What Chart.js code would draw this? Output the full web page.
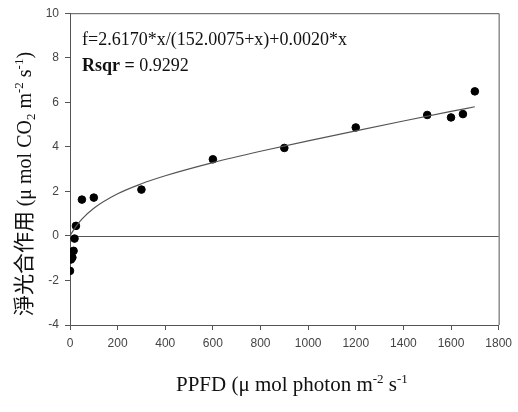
<!DOCTYPE html>
<html>
<head>
<meta charset="utf-8">
<script src="https://cdn.jsdelivr.net/npm/chart.js@4.4.1/dist/chart.umd.min.js"></script>
<style>
  html, body { margin: 0; padding: 0; background: #fff; }
  #wrap { width: 518px; height: 412px; }
</style>
</head>
<body>
<div id="wrap"><canvas id="c" width="518" height="412"></canvas></div>
<script>
// measured points (PPFD vs net photosynthesis)
const ppfd = [0, 4, 10, 15, 19, 25, 50, 100, 300, 600, 900, 1200, 1500, 1600, 1650, 1700];
const netPhoto = [-1.57, -1.06, -0.97, -0.67, -0.12, 0.45, 1.63, 1.72, 2.08, 3.44, 3.95, 4.87, 5.43, 5.32, 5.47, 6.49];

// fitted curve
const fitX = [0, 10, 25, 50, 100, 200, 300, 400, 600, 800, 1000, 1200, 1400, 1600, 1700];
const fitY = [0, 0.18, 0.42, 0.75, 1.24, 1.89, 2.34, 2.70, 3.29, 3.80, 4.27, 4.72, 5.16, 5.59, 5.80];

const xTicks = [0, 200, 400, 600, 800, 1000, 1200, 1400, 1600, 1800];
const yTicks = [-4, -2, 0, 2, 4, 6, 8, 10];

const formulaText = 'f=2.6170*x/(152.0075+x)+0.0020*x';
const rsqrLabel = 'Rsqr =';
const rsqrValue = ' 0.9292';

const serif = '"Liberation Serif", "Times New Roman", serif';
const sans = '"Liberation Sans", Arial, sans-serif';
const axisColor = '#555';

// draw a run of text pieces, some raised or lowered, starting at x
function drawPieces(ctx, pieces, x, y) {
    pieces.forEach(p => {
        ctx.font = p.font;
        ctx.fillText(p.t, x, y + (p.dy || 0));
        x += ctx.measureText(p.t).width;
    });
}
function piecesWidth(ctx, pieces) {
    let w = 0;
    pieces.forEach(p => { ctx.font = p.font; w += ctx.measureText(p.t).width; });
    return w;
}

const decorPlugin = {
    id: 'decor',
    beforeDatasetsDraw(chart) {
        const ctx = chart.ctx;
        const a = chart.chartArea;
        const y0 = chart.scales.y.getPixelForValue(0);
        ctx.save();
        ctx.strokeStyle = axisColor;
        ctx.lineWidth = 1;
        // top and right frame
        ctx.beginPath();
        ctx.moveTo(a.left, a.top + 0.5);
        ctx.lineTo(a.right + 0.5, a.top + 0.5);
        ctx.lineTo(a.right + 0.5, a.bottom);
        ctx.stroke();
        // zero line
        ctx.beginPath();
        ctx.moveTo(a.left, Math.round(y0) + 0.5);
        ctx.lineTo(a.right, Math.round(y0) + 0.5);
        ctx.stroke();
        ctx.restore();
    },
    afterDraw(chart) {
        const ctx = chart.ctx;
        ctx.save();
        ctx.fillStyle = '#111';
        ctx.textBaseline = 'alphabetic';
        ctx.textAlign = 'left';

        // formula and r squared
        ctx.font = '18px ' + serif;
        ctx.fillText(formulaText, 82, 45);
        ctx.font = 'bold 18px ' + serif;
        ctx.fillText(rsqrLabel, 82, 71);
        const w = ctx.measureText(rsqrLabel).width;
        ctx.font = '18px ' + serif;
        ctx.fillText(rsqrValue, 82 + w, 71);

        // x axis title
        const big = '21px ' + serif, small = '13px ' + serif;
        const xTitle = [
            { t: 'PPFD (\u03bc mol photon m', font: big },
            { t: '-2', font: small, dy: -8 },
            { t: ' s', font: big },
            { t: '-1', font: small, dy: -8 }
        ];
        drawPieces(ctx, xTitle, 176, 391);

        // y axis title, rotated
        const cjk = '21px "Noto Sans CJK TC", "Noto Sans CJK SC", sans-serif';
        const yb = '20px ' + serif, ys = '13px ' + serif;
        const yTitle = [
            { t: '\u6de8\u5149\u5408\u4f5c\u7528 ', font: cjk },
            { t: '(\u03bc mol CO', font: yb },
            { t: '2', font: ys, dy: 4 },
            { t: ' m', font: yb },
            { t: '-2', font: ys, dy: -8 },
            { t: ' s', font: yb },
            { t: '-1', font: ys, dy: -8 },
            { t: ')', font: yb }
        ];
        const tw = piecesWidth(ctx, yTitle);
        ctx.translate(31, 184);
        ctx.rotate(-Math.PI / 2);
        drawPieces(ctx, yTitle, -tw / 2, 0);
        ctx.restore();
    }
};

const ctx = document.getElementById('c').getContext('2d');
new Chart(ctx, {
    type: 'scatter',
    data: {
        datasets: [
            {
                type: 'line',
                label: 'fit',
                data: fitX.map((x, i) => ({ x: x, y: fitY[i] })),
                borderColor: '#555',
                borderWidth: 1.2,
                pointRadius: 0,
                cubicInterpolationMode: 'monotone',
                fill: false
            },
            {
                label: 'measured',
                data: ppfd.map((x, i) => ({ x: x, y: netPhoto[i] })),
                backgroundColor: '#000',
                borderColor: '#000',
                pointRadius: 3.8,
                pointHoverRadius: 3.8
            }
        ]
    },
    options: {
        responsive: false,
        animation: false,
        layout: { padding: { left: 0, top: 12, right: 11, bottom: 0 } },
        plugins: {
            legend: { display: false },
            tooltip: { enabled: false }
        },
        scales: {
            x: {
                type: 'linear',
                min: 0,
                max: 1800,
                afterBuildTicks: s => { s.ticks = xTicks.map(v => ({ value: v })); },
                afterFit: s => { s.height = 87; },
                grid: { drawOnChartArea: false, tickLength: 5, tickColor: axisColor, tickWidth: 1 },
                border: { color: axisColor, width: 1 },
                ticks: {
                    color: '#444',
                    font: { family: sans, size: 12 },
                    padding: 6,
                    maxRotation: 0,
                    autoSkip: false,
                    callback: v => String(v)
                }
            },
            y: {
                type: 'linear',
                min: -4,
                max: 10,
                afterBuildTicks: s => { s.ticks = yTicks.map(v => ({ value: v })); },
                afterFit: s => { s.width = 70; },
                grid: { drawOnChartArea: false, tickLength: 5, tickColor: axisColor, tickWidth: 1 },
                border: { color: axisColor, width: 1 },
                ticks: {
                    color: '#444',
                    font: { family: sans, size: 12 },
                    padding: 6,
                    autoSkip: false,
                    callback: v => String(v)
                }
            }
        }
    },
    plugins: [decorPlugin]
});
</script>
</body>
</html>
